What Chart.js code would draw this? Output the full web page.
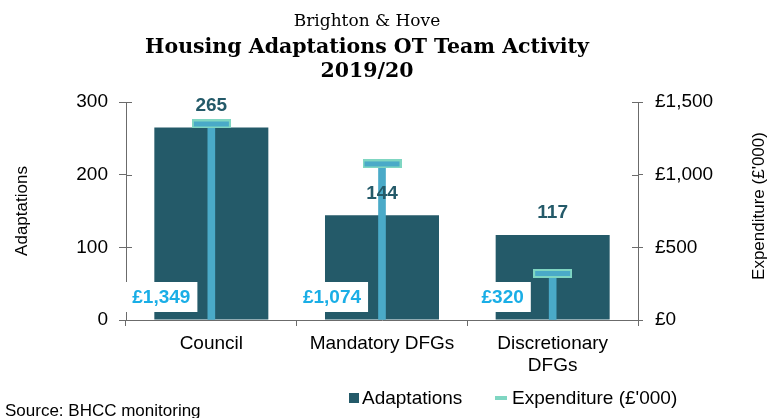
<!DOCTYPE html>
<html>
<head>
<meta charset="utf-8">
<script src="https://cdn.jsdelivr.net/npm/chart.js@4.4.1/dist/chart.umd.min.js"></script>
<style>
  html, body { margin: 0; padding: 0; background: #fff; }
  #wrap { position: relative; width: 767px; height: 418px; overflow: hidden; font-family: "Liberation Sans", Arial, sans-serif; }
  #chart { position: absolute; left: 0; top: 0; }
  .ttl { position: absolute; left: 0; width: 734px; text-align: center; font-family: "DejaVu Serif", Georgia, serif; color: #000; white-space: nowrap; }
  .legend { position: absolute; top: 387px; font-size: 19px; line-height: 22px; color: #000; white-space: nowrap; }
  .sw { position: absolute; }
  #source { position: absolute; left: 5px; top: 401px; font-size: 17px; line-height: 20px; color: #000; }
</style>
</head>
<body>
<div id="wrap">
  <canvas id="chart" width="767" height="418"></canvas>
  <div class="ttl" style="top:8px;font-size:17px;line-height:24px;">Brighton &amp; Hove</div>
  <div class="ttl" style="top:32px;font-size:20.5px;line-height:28px;font-weight:bold;">Housing Adaptations OT Team Activity</div>
  <div class="ttl" style="top:56px;font-size:20.5px;line-height:28px;font-weight:bold;">2019/20</div>
  <div class="sw" style="left:349px;top:393px;width:10px;height:10px;background:#245a69;"></div>
  <div class="legend" style="left:362px;">Adaptations</div>
  <div class="sw" style="left:495px;top:396px;width:12px;height:4px;background:#7fd6c2;"></div>
  <div class="legend" style="left:512px;">Expenditure (£'000)</div>
  <div id="source">Source: BHCC monitoring</div>
</div>
<script>
const categories = ['Council', 'Mandatory DFGs', ['Discretionary', 'DFGs']];
const adaptations = [265, 144, 117];
const expenditure = [1349, 1074, 320]; // £'000
const leftTicks = [0, 100, 200, 300];
const rightTicks = [0, 500, 1000, 1500];

const BAR = '#245a69';
const STEM = '#4aaac8';
const CAP_EDGE = '#7fd6c2';
const MONEY = '#1aaee6';
const AXIS = '#6b6b6b';

const money = v => '£' + v.toLocaleString('en-GB');

// cap marker for the expenditure line points
const cap = document.createElement('canvas');
cap.width = 39; cap.height = 9;
const cctx = cap.getContext('2d');
cctx.fillStyle = CAP_EDGE;
cctx.fillRect(0, 0, 39, 9);
cctx.fillStyle = STEM;
cctx.fillRect(2, 2, 35, 5);

const labelsPlugin = {
  id: 'valueLabels',
  afterDatasetsDraw(chart) {
    const ctx = chart.ctx;
    const a = chart.chartArea;
    const bottom = chart.scales.x.top;
    ctx.save();

    // inner half of the cross-style tick marks
    ctx.strokeStyle = AXIS;
    ctx.lineWidth = 1;
    ctx.beginPath();
    leftTicks.forEach(v => {
      const y = Math.round(chart.scales.y.getPixelForValue(v)) + 0.5;
      ctx.moveTo(a.left, y); ctx.lineTo(a.left + 6, y);
    });
    rightTicks.forEach(v => {
      const y = Math.round(chart.scales.y1.getPixelForValue(v)) + 0.5;
      ctx.moveTo(a.right, y); ctx.lineTo(a.right - 6, y);
    });
    ctx.stroke();

    ctx.textAlign = 'center';
    ctx.textBaseline = 'middle';
    ctx.font = 'bold 19px "Liberation Sans", Arial, sans-serif';

    chart.getDatasetMeta(0).data.forEach((bar, i) => {
      ctx.fillStyle = BAR;
      ctx.fillText(adaptations[i], bar.x, bar.y - 22);
    });

    chart.getDatasetMeta(1).data.forEach((bar, i) => {
      const txt = money(expenditure[i]);
      const w = ctx.measureText(txt).width + 14;
      const cx = bar.x - 50, cy = bottom - 23;
      ctx.fillStyle = '#fff';
      ctx.fillRect(cx - w / 2, cy - 15, w, 30);
      ctx.fillStyle = MONEY;
      ctx.fillText(txt, cx, cy + 1);
    });

    // right axis title, reading bottom to top
    ctx.translate(759, (a.top + a.bottom) / 2 - 5);
    ctx.rotate(-Math.PI / 2);
    ctx.font = '17px "Liberation Sans", Arial, sans-serif';
    ctx.fillStyle = '#000';
    ctx.fillText("Expenditure (£'000)", 0, 0);
    ctx.restore();
  }
};

const tickFont = { family: '"Liberation Sans", Arial, sans-serif', size: 19 };

new Chart(document.getElementById('chart'), {
  type: 'bar',
  data: {
    labels: categories,
    datasets: [
      {
        label: 'Adaptations',
        data: adaptations,
        yAxisID: 'y',
        backgroundColor: BAR,
        grouped: false,
        barPercentage: 0.668,
        categoryPercentage: 1,
        order: 3
      },
      {
        label: "Expenditure (£'000)",
        data: expenditure,
        yAxisID: 'y1',
        backgroundColor: STEM,
        grouped: false,
        barThickness: 7,
        order: 2
      },
      {
        type: 'line',
        label: 'cap',
        data: expenditure,
        yAxisID: 'y1',
        showLine: false,
        pointStyle: cap,
        order: 1
      }
    ]
  },
  options: {
    responsive: false,
    animation: false,
    events: [],
    layout: { padding: { top: 102, left: 0, right: 0, bottom: 0 } },
    plugins: {
      legend: { display: false },
      tooltip: { enabled: false },
      title: { display: false }
    },
    scales: {
      x: {
        offset: true,
        grid: { drawOnChartArea: false, tickLength: 6, color: AXIS, offset: true },
        border: { color: AXIS },
        ticks: { font: tickFont, color: '#000', maxRotation: 0, autoSkip: false, padding: 6 },
        afterFit: s => { s.height = 98; }
      },
      y: {
        position: 'left',
        min: 0,
        max: 300,
        afterBuildTicks: s => { s.ticks = leftTicks.map(v => ({ value: v })); },
        grid: { drawOnChartArea: false, tickLength: 7, color: AXIS },
        border: { color: AXIS },
        ticks: { font: tickFont, color: '#000', padding: 11 },
        title: {
          display: true,
          text: 'Adaptations',
          font: { family: '"Liberation Sans", Arial, sans-serif', size: 17 },
          color: '#000',
          padding: { top: 12, bottom: 0 }
        },
        afterFit: s => { s.width = 126; }
      },
      y1: {
        position: 'right',
        min: 0,
        max: 1500,
        afterBuildTicks: s => { s.ticks = rightTicks.map(v => ({ value: v })); },
        grid: { drawOnChartArea: false, tickLength: 5, color: AXIS },
        border: { color: AXIS },
        ticks: { font: tickFont, color: '#000', padding: 12, callback: v => money(v) },
        afterFit: s => { s.width = 129; }
      }
    }
  },
  plugins: [labelsPlugin]
});
</script>
</body>
</html>
